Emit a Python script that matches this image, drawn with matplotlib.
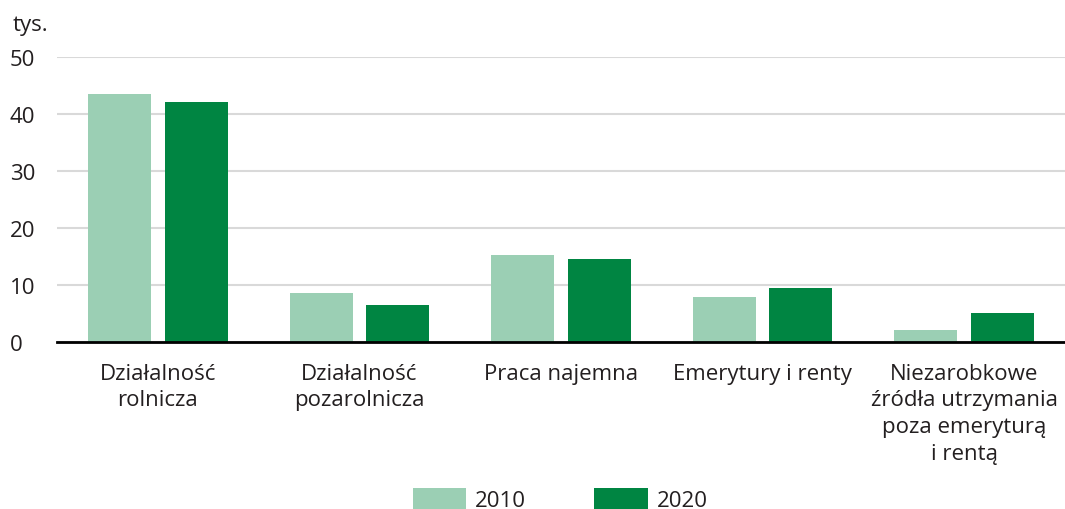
import numpy as np
import matplotlib.pyplot as plt

plt.rcParams['font.family'] = ['Open Sans', 'DejaVu Sans']
plt.rcParams['text.color'] = '#231f20'
plt.rcParams['xtick.color'] = '#231f20'
plt.rcParams['ytick.color'] = '#231f20'

categories = ["Działalność\nrolnicza", "Działalność\npozarolnicza", "Praca najemna",
              "Emerytury i renty",
              "Niezarobkowe\nźródła utrzymania\npoza emeryturą\ni rentą"]
v2010 = [43.5, 8.6, 15.3, 7.9, 2.1]
v2020 = [42.1, 6.5, 14.6, 9.5, 5.1]
years = ["2010", "2020"]
colors = ["#9bcfb4", "#008542"]

fig = plt.figure(figsize=(10.65, 5.10), dpi=100)
ax = fig.add_axes([0.0535, 0.3275, 0.9465, 0.5588])

x = np.arange(len(categories))
w = 0.312
off = 0.19
ax.bar(x - off, v2010, w, color=colors[0], label=years[0], zorder=3)
ax.bar(x + off, v2020, w, color=colors[1], label=years[1], zorder=3)

ax.set_xlim(-0.5, len(categories) - 0.5)
ax.set_ylim(0, 50)
ax.set_yticks([0, 10, 20, 30, 40, 50])
ax.yaxis.grid(True, color="#d9d9d9", linewidth=1.5, zorder=0)
for s in ["top", "right", "left"]:
    ax.spines[s].set_visible(False)
ax.spines["bottom"].set_linewidth(2)
ax.spines["bottom"].set_zorder(4)
ax.tick_params(axis="y", length=0, labelsize=16, pad=34)
ax.tick_params(axis="x", length=0, labelsize=16, pad=15)
ax.set_xticks(x)
ax.set_xticklabels(categories, linespacing=1.35)
for lbl in ax.get_yticklabels():
    lbl.set_horizontalalignment("left")
ax.text(0.012, 0.95, "tys.", transform=fig.transFigure, fontsize=16, va="center")

fig.legend(loc="lower center", bbox_to_anchor=(0.526, -0.043), ncol=2, frameon=False,
           fontsize=16, handlelength=2.4, handleheight=1.1, columnspacing=3.07,
           handletextpad=0.4)

fig.savefig("out.png", dpi=100)
